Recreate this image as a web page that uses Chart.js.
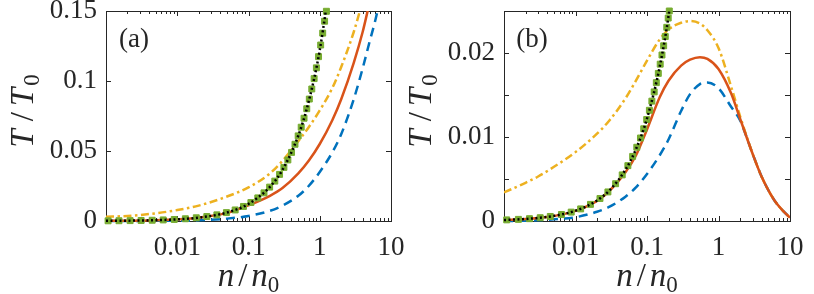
<!DOCTYPE html>
<html>
<head>
<meta charset="utf-8">
<script src="https://cdn.jsdelivr.net/npm/chart.js@4.4.1/dist/chart.umd.min.js"></script>
<style>
  html, body { margin: 0; padding: 0; background: #fff; }
  #wrap { position: relative; width: 814px; height: 294px; }
  .panel { position: absolute; top: 0; }
</style>
</head>
<body>
<div id="wrap">
  <canvas class="panel" id="chartA" width="407" height="294" style="left:0"></canvas>
  <canvas class="panel" id="chartB" width="407" height="294" style="left:407px"></canvas>
</div>
<script>
// values (n/n0 on x, T/T0 on y)

// panel (a)
const nA = [0.001, 0.002, 0.005, 0.01, 0.02, 0.05, 0.1, 0.2, 0.3, 0.5, 0.7, 1, 1.5, 2, 3, 4, 5, 6, 7];
const blueA = [0, 0.00003, 0.0001, 0.0002, 0.0005, 0.0017, 0.0036, 0.0073, 0.011, 0.018, 0.025, 0.035, 0.049, 0.062, 0.087, 0.109, 0.128, 0.143, 0.158];
const redA = [0.00012, 0.00024, 0.0006, 0.0012, 0.0024, 0.0058, 0.0112, 0.018, 0.0235, 0.034, 0.043, 0.055, 0.072, 0.087, 0.113, 0.135, 0.156, null, null];
const yellowA = [0.003, 0.0036, 0.0055, 0.0078, 0.011, 0.0175, 0.024, 0.034, 0.043, 0.057, 0.067, 0.079, 0.095, 0.11, 0.135, 0.157, null, null, null];
const blackA = [0.00012, 0.00024, 0.0006, 0.0012, 0.0024, 0.0061, 0.0122, 0.0244, 0.0366, 0.061, 0.0854, 0.122, 0.183, null, null, null, null, null, null];
const greenNA = [0.00107, 0.00152, 0.00218, 0.00311, 0.00445, 0.00635, 0.00907, 0.013, 0.0185, 0.026, 0.036, 0.049, 0.065, 0.085, 0.108, 0.135, 0.165, 0.198, 0.234, 0.273, 0.314, 0.357, 0.402, 0.449, 0.498, 0.549, 0.602, 0.657, 0.714, 0.773, 0.834, 0.897, 0.962, 1.03, 1.1, 1.17, 1.24];
const greenTA = [0.00013, 0.00019, 0.00027, 0.00038, 0.00054, 0.00077, 0.0011, 0.0016, 0.0023, 0.0032, 0.0044, 0.006, 0.0079, 0.0104, 0.0132, 0.0165, 0.0201, 0.0242, 0.0285, 0.0333, 0.0383, 0.0436, 0.049, 0.0548, 0.0608, 0.067, 0.0734, 0.0802, 0.0871, 0.0943, 0.1017, 0.1094, 0.1174, 0.1257, 0.1342, 0.1427, 0.1498];

// panel (b)
const nB = [0.001, 0.002, 0.003, 0.005, 0.01, 0.02, 0.03, 0.05, 0.07, 0.1, 0.15, 0.2, 0.3, 0.4, 0.55, 0.7, 1, 1.5, 2, 3, 4, 6, 8, 10];
const blueB = [0, 0.00003, 0.00008, 0.0002, 0.00045, 0.0011, 0.0017, 0.0029, 0.004, 0.0056, 0.0078, 0.0097, 0.0131, 0.0151, 0.0163, 0.0165, 0.0158, 0.0136, 0.012, 0.008, 0.0053, 0.0025, 0.0012, 0.0004];
const redB = [0.00012, 0.00024, 0.00037, 0.0006, 0.0012, 0.0024, 0.0036, 0.0058, 0.0078, 0.0109, 0.0147, 0.0167, 0.0185, 0.0192, 0.0195, 0.0193, 0.0181, 0.0152, 0.0122, 0.008, 0.0053, 0.0025, 0.0012, 0.0004];
const yellowB = [0.0034, 0.00455, 0.0053, 0.00645, 0.0082, 0.0104, 0.012, 0.0146, 0.0167, 0.0191, 0.0216, 0.0228, 0.0236, 0.0238, 0.0235, 0.0227, 0.0206, 0.016, 0.0125, 0.008, 0.0053, 0.0025, 0.0012, 0.0004];
const blackB = [0.00012, 0.00024, 0.00037, 0.00061, 0.00122, 0.00244, 0.00366, 0.0061, 0.00854, 0.0122, 0.0183, 0.0244, 0.0366, null, null, null, null, null, null, null, null, null, null, null];
const greenNB = [0.00109, 0.00159, 0.00227, 0.00321, 0.00444, 0.00636, 0.00871, 0.0118, 0.0162, 0.022, 0.0284, 0.0364, 0.045, 0.054, 0.063, 0.072, 0.081, 0.09, 0.099, 0.108, 0.117, 0.126, 0.135, 0.144, 0.153, 0.162, 0.171, 0.18, 0.189, 0.198, 0.205];
const greenTB = [0.000133, 0.000194, 0.000277, 0.000392, 0.000542, 0.000776, 0.00106, 0.00144, 0.00198, 0.00268, 0.00346, 0.00444, 0.00549, 0.00659, 0.00769, 0.00878, 0.00988, 0.01098, 0.01208, 0.01318, 0.01427, 0.01537, 0.01647, 0.01757, 0.01867, 0.01976, 0.02086, 0.02196, 0.02306, 0.02416, 0.025];

// ticks
const xMajor = [0.001, 0.01, 0.1, 1, 10];
const xLabels = [0.01, 0.1, 1, 10];
const yLabelsA = [0, 0.05, 0.1, 0.15];
const yLabelsB = [0, 0.01, 0.02];
const yMarksB = [0, 0.005, 0.01, 0.015, 0.02, 0.025];

const AXIS = '#262626';
const FONT = '"Liberation Serif", "Times New Roman", serif';
const BLUE = '#0072BD', RED = '#D95319', YELLOW = '#EDB120', GREEN = '#77AC30';
const LW = 2.5;

const xMinor = [];
for (let e = -3; e < 1; e++) for (let m = 2; m < 10; m++) xMinor.push(m * Math.pow(10, e));

function pts(xs, ys) {
  return xs.map((x, i) => ({ x: x, y: ys[i] }));
}

function curve(xs, ys, color, dash, order) {
  return {
    data: pts(xs, ys), borderColor: color, borderWidth: LW, borderDash: dash,
    pointRadius: 0, fill: false, cubicInterpolationMode: 'monotone', order: order,
    clip: { left: 0, top: 0, right: 0, bottom: 2 }
  };
}

function markers(xs, ys) {
  return {
    data: pts(xs, ys), showLine: false, pointStyle: 'rect', pointRadius: 4.2,
    pointBackgroundColor: GREEN, pointBorderColor: GREEN, pointBorderWidth: 1,
    order: 1, clip: false
  };
}

// box + inward ticks, like the original axes
const frame = {
  id: 'frame',
  beforeDatasetsDraw(chart, args, opts) {
    const { ctx, chartArea: a, scales: { x, y } } = chart;
    ctx.save();
    ctx.strokeStyle = AXIS;
    ctx.lineWidth = 1;
    ctx.beginPath();
    const seg = (x1, y1, x2, y2) => { ctx.moveTo(x1, y1); ctx.lineTo(x2, y2); };
    xMajor.forEach(v => {
      const p = Math.round(x.getPixelForValue(v)) + 0.5;
      seg(p, a.bottom, p, a.bottom - 5); seg(p, a.top, p, a.top + 5);
    });
    xMinor.forEach(v => {
      const p = Math.round(x.getPixelForValue(v)) + 0.5;
      seg(p, a.bottom, p, a.bottom - 3); seg(p, a.top, p, a.top + 3);
    });
    opts.yMarks.forEach(v => {
      const p = Math.round(y.getPixelForValue(v)) + 0.5;
      seg(a.left, p, a.left + 5, p); seg(a.right, p, a.right - 5, p);
    });
    ctx.stroke();
    ctx.strokeRect(Math.round(a.left) + 0.5, Math.round(a.top) + 0.5,
      Math.round(a.right - a.left), Math.round(a.bottom - a.top));
    ctx.restore();
  },
  afterDraw(chart, args, opts) {
    const ctx = chart.ctx;
    const a = chart.chartArea;
    ctx.save();
    ctx.fillStyle = AXIS;
    ctx.font = '27px ' + FONT;
    ctx.textAlign = 'center';
    ctx.textBaseline = 'middle';
    ctx.fillText(opts.tag, a.left + 28, a.top + 29);
    ctx.restore();
    drawMath(ctx, [['T', 'it'], ['/', ''], ['T', 'it'], ['0', 'sub']], opts.yTitleX, (a.top + a.bottom) / 2 - 5, -Math.PI / 2, 12);
    drawMath(ctx, [['n', 'it'], ['/', ''], ['n', 'it'], ['0', 'sub']], (a.left + a.right) / 2, 286, 0, 8);
  }
};

// axis titles with a lowered, smaller 0
function drawMath(ctx, parts, cx, cy, angle, slashPad) {
  ctx.save();
  ctx.translate(cx, cy);
  ctx.rotate(angle);
  ctx.fillStyle = AXIS;
  ctx.textBaseline = 'alphabetic';
  ctx.textAlign = 'left';
  const fonts = parts.map(p => p[1] === 'sub' ? '23px ' + FONT : (p[1] === 'it' ? 'italic ' : '') + '33px ' + FONT);
  const widths = parts.map((p, i) => {
    ctx.font = fonts[i];
    return ctx.measureText(p[0]).width + (p[0] === '/' ? slashPad : 0) + (p[0] === 'T' ? 2 : 0);
  });
  let x = -widths.reduce((s, w) => s + w, 0) / 2;
  parts.forEach((p, i) => {
    ctx.font = fonts[i];
    ctx.fillText(p[0], x + (p[0] === '/' ? slashPad / 2 : 0), p[1] === 'sub' ? 6 : 0);
    x += widths[i];
  });
  ctx.restore();
}

function makePanel(id, cfg) {
  return new Chart(document.getElementById(id), {
    type: 'line',
    data: { datasets: cfg.datasets },
    options: {
      responsive: false,
      animation: false,
      devicePixelRatio: 1,
      layout: { padding: { left: 0, right: cfg.padRight, top: 11, bottom: 0 } },
      plugins: {
        legend: { display: false },
        tooltip: { enabled: false },
        frame: { yMarks: cfg.yMarks, tag: cfg.tag, yTitleX: cfg.yTitleX }
      },
      scales: {
        x: {
          type: 'logarithmic', min: 0.001, max: 10,
          grid: { display: false, drawTicks: false },
          border: { display: false },
          afterBuildTicks: s => { s.ticks = xLabels.map(v => ({ value: v })); },
          afterFit: s => { s.height = 73; s.paddingLeft = 0; s.paddingRight = 0; },
          ticks: {
            font: { family: FONT, size: 27 }, color: AXIS, padding: 11,
            maxRotation: 0, autoSkip: false, callback: v => String(v)
          }
        },
        y: {
          type: 'linear', min: 0, max: cfg.yMax,
          grid: { display: false, drawTicks: false },
          border: { display: false },
          afterBuildTicks: s => { s.ticks = cfg.yLabels.map(v => ({ value: v })); },
          afterFit: s => { s.width = cfg.yWidth; s.paddingTop = 0; s.paddingBottom = 0; },
          ticks: {
            font: { family: FONT, size: 27 }, color: AXIS, padding: 9,
            autoSkip: false, callback: v => String(v)
          }
        }
      }
    },
    plugins: [frame]
  });
}

makePanel('chartA', {
  yMax: 0.15, yLabels: yLabelsA, yMarks: yLabelsA, yWidth: 106, padRight: 16,
  tag: '(a)', yTitleX: 33,
  datasets: [
    curve(nA, blackA, '#000000', [2, 2.5], 0),
    markers(greenNA, greenTA),
    curve(nA, redA, RED, [], 2),
    curve(nA, yellowA, YELLOW, [8, 3.5, 2.5, 3.5], 3),
    curve(nA, blueA, BLUE, [9, 6], 4)
  ]
});

makePanel('chartB', {
  yMax: 0.025, yLabels: yLabelsB, yMarks: yMarksB, yWidth: 97, padRight: 24,
  tag: '(b)', yTitleX: 24,
  datasets: [
    curve(nB, blackB, '#000000', [2, 2.5], 0),
    markers(greenNB, greenTB),
    curve(nB, redB, RED, [], 2),
    curve(nB, yellowB, YELLOW, [8, 3.5, 2.5, 3.5], 3),
    curve(nB, blueB, BLUE, [9, 6], 4)
  ]
});
</script>
</body>
</html>
